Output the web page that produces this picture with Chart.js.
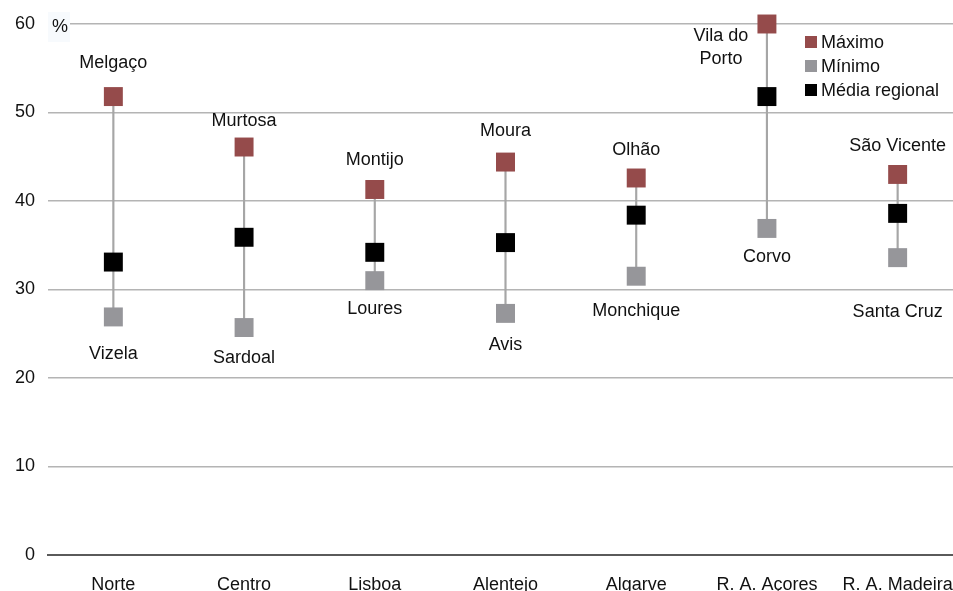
<!DOCTYPE html>
<html>
<head>
<meta charset="utf-8">
<script src="https://cdn.jsdelivr.net/npm/chart.js@4"></script>
<style>
  html, body { margin: 0; padding: 0; background: #fff; overflow: hidden; }
  #wrap { width: 963px; height: 591px; }
</style>
</head>
<body>
<div id="wrap"><canvas id="chart" width="963" height="591"></canvas></div>
<script>
const regions = ['Norte', 'Centro', 'Lisboa', 'Alentejo', 'Algarve', 'R. A. Açores', 'R. A. Madeira'];
const maxValues = [51.8, 46.1, 41.3, 44.4, 42.6, 60.0, 43.0];
const minValues = [26.9, 25.7, 31.0, 27.3, 31.5, 36.9, 33.6];
const meanValues = [33.1, 35.9, 34.2, 35.3, 38.4, 51.8, 38.6];
const maxNames = ['Melgaço', 'Murtosa', 'Montijo', 'Moura', 'Olhão', 'Vila do\nPorto', 'São Vicente'];
const minNames = ['Vizela', 'Sardoal', 'Loures', 'Avis', 'Monchique', 'Corvo', 'Santa Cruz'];
const yTicks = [0, 10, 20, 30, 40, 50, 60];

// label placement (pixels from the marker), hand tuned
const maxLabelDx = [0, 0, 0, 0, 0, -46, 0];
const maxLabelDy = [-34, -26, -29, -31, -28, 12, -28];
const minLabelDy = [37, 30, 28, 32, 35, 29, 54];

const colors = {
    'max': '#954b4b',
    'min': '#96969a',
    'mean': '#000000',
    'stem': '#a6a6a6',
    'grid': '#b4b4b4',
    'axis': '#5a5a5a',
}
const FONT = '"Liberation Sans", Arial, sans-serif';

const ranges = minValues.map((v, i) => [v, maxValues[i]]);

const pointSet = (label, data, color) => ({
    type: 'line',
    label: label,
    data: data,
    showLine: false,
    clip: false,
    pointStyle: 'rect',
    pointRadius: 13.4,
    pointHoverRadius: 13.4,
    pointBorderWidth: 0,
    backgroundColor: color,
    borderColor: color,
    order: 1,
});

const labelsPlugin = {
    id: 'cityLabels',
    afterDatasetsDraw(chart) {
        const c = chart.ctx;
        const maxMeta = chart.getDatasetMeta(1);
        const minMeta = chart.getDatasetMeta(2);
        c.save();
        c.font = '18px ' + FONT;
        c.fillStyle = '#111';
        c.textAlign = 'center';
        c.textBaseline = 'middle';
        maxMeta.data.forEach((pt, i) => {
            const lines = maxNames[i].split('\n');
            lines.forEach((ln, k) => {
                c.fillText(ln, pt.x + maxLabelDx[i], pt.y + maxLabelDy[i] + k * 23);
            });
        });
        minMeta.data.forEach((pt, i) => {
            c.fillText(minNames[i], pt.x, pt.y + minLabelDy[i]);
        });

        // unit label
        const y60 = chart.scales.y.getPixelForValue(60);
        c.fillStyle = '#f7fafd';
        c.fillRect(48, y60 - 12, 22, 30);
        c.fillStyle = '#111';
        c.fillText('%', 60, y60 + 3);

        // legend
        const items = [
            ['Máximo', colors.max],
            ['Mínimo', colors.min],
            ['Média regional', colors.mean],
        ];
        c.textAlign = 'left';
        items.forEach((it, k) => {
            const y = 42 + k * 24;
            c.fillStyle = it[1];
            c.fillRect(805, y - 6, 12, 12);
            c.fillStyle = '#111';
            c.fillText(it[0], 821, y + 1);
        });
        c.restore();
    }
};

const ctx = document.getElementById('chart');
const mainChart = new Chart(ctx, {
    data: {
        labels: regions,
        datasets: [
            {
                type: 'bar',
                label: 'range',
                data: ranges,
                backgroundColor: colors.stem,
                borderWidth: 0,
                barThickness: 1.5,
                order: 2,
            },
            pointSet('Máximo', maxValues, colors.max),
            pointSet('Mínimo', minValues, colors.min),
            pointSet('Média regional', meanValues, colors.mean),
        ],
    },
    options: {
        responsive: false,
        animation: false,
        devicePixelRatio: 1,
        layout: { autoPadding: false, padding: { top: 24, right: 0, bottom: 0, left: 0 } },
        plugins: {
            legend: { display: false },
            tooltip: { enabled: false },
        },
        scales: {
            x: {
                grid: { display: false },
                border: { color: colors.axis, width: 2 },
                ticks: {
                    font: { family: FONT, size: 18 },
                    color: '#111',
                    padding: 11,
                    maxRotation: 0,
                    autoSkip: false,
                },
                afterFit(scale) {
                    scale.height = 36;
                    scale.paddingLeft = 0;
                    scale.paddingRight = 0;
                },
            },
            y: {
                min: 0,
                max: 60,
                afterBuildTicks(scale) { scale.ticks = yTicks.map(v => ({ value: v })); },
                grid: {
                    color: (c) => c.tick && c.tick.value === 0 ? colors.axis : colors.grid,
                    lineWidth: (c) => c.tick && c.tick.value === 0 ? 2 : 1.5,
                    drawTicks: false,
                },
                border: { display: false },
                ticks: {
                    font: { family: FONT, size: 18 },
                    color: '#111',
                    padding: 13,
                },
                afterFit(scale) { scale.width = 48; },
            },
        },
    },
    plugins: [labelsPlugin],
});
</script>
</body>
</html>
